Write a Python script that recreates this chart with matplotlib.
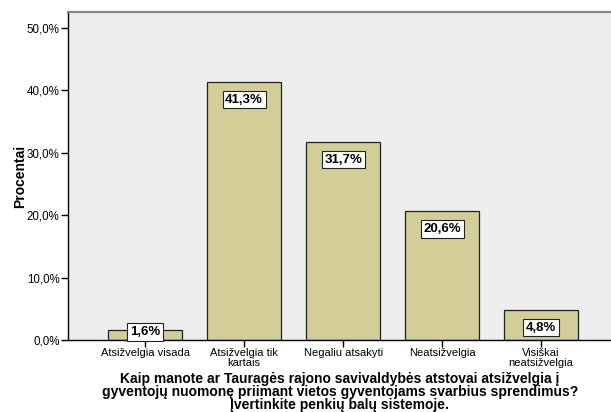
import matplotlib
matplotlib.use("Agg")
import matplotlib.pyplot as plt
from matplotlib.ticker import FuncFormatter

plt.rcParams['font.family'] = ['Liberation Sans', 'DejaVu Sans']

categories = ["Atsižvelgia visada", "Atsižvelgia tik\nkartais", "Negaliu atsakyti",
              "Neatsižvelgia", "Visiškai\nneatsižvelgia"]
values = [1.6, 41.3, 31.7, 20.6, 4.8]
value_labels = ["1,6%", "41,3%", "31,7%", "20,6%", "4,8%"]
y_ticks = [0, 10, 20, 30, 40, 50]
x_title = ("Kaip manote ar Tauragės rajono savivaldybės atstovai atsižvelgia į\n"
           "gyventojų nuomonę priimant vietos gyventojams svarbius sprendimus?\n"
           "Įvertinkite penkių balų sistemoje.")
y_title = "Procentai"

fig = plt.figure(figsize=(6.11, 4.12), dpi=100)
ax = fig.add_axes([68 / 611, 72 / 412, 543 / 611, 328 / 412])
ax.set_facecolor('#EEEEEE')

x = list(range(len(categories)))
ax.bar(x, values, width=0.75, color='#D3CE98', edgecolor='#222222', linewidth=0.9, zorder=2)

for xi, v, lab in zip(x, values, value_labels):
    ax.text(xi, max(v - 2.8, 1.3), lab, ha='center', va='center', fontsize=9.5,
            fontweight='bold', zorder=3,
            bbox=dict(boxstyle='square,pad=0.2', facecolor='white', edgecolor='#222222', linewidth=0.8))

ax.set_xlim(-0.78, 4.707)
ax.set_ylim(0, 52.56)
ax.set_yticks(y_ticks)
ax.yaxis.set_major_formatter(FuncFormatter(lambda v, p: f"{v:.1f}%".replace('.', ',')))
ax.set_xticks(x)
ax.set_xticklabels(categories, fontsize=8, linespacing=0.95)
ax.tick_params(axis='y', labelsize=8.3, length=5, width=1.0, pad=1)
ax.tick_params(axis='x', length=5, width=1.0, pad=1)

for s in ['left', 'bottom']:
    ax.spines[s].set_color('black')
    ax.spines[s].set_linewidth(1.0)
ax.spines['top'].set_color('#888888')
ax.spines['top'].set_linewidth(1.6)
ax.spines['right'].set_visible(False)

ax.set_ylabel(y_title, fontsize=10, fontweight='bold')
ax.yaxis.set_label_coords(-0.075, 0.5)
fig.text(340 / 611, 1 - 392 / 412, x_title, ha='center', va='center', fontsize=10,
         fontweight='bold', linespacing=0.95)

fig.savefig('out.png', dpi=100)
